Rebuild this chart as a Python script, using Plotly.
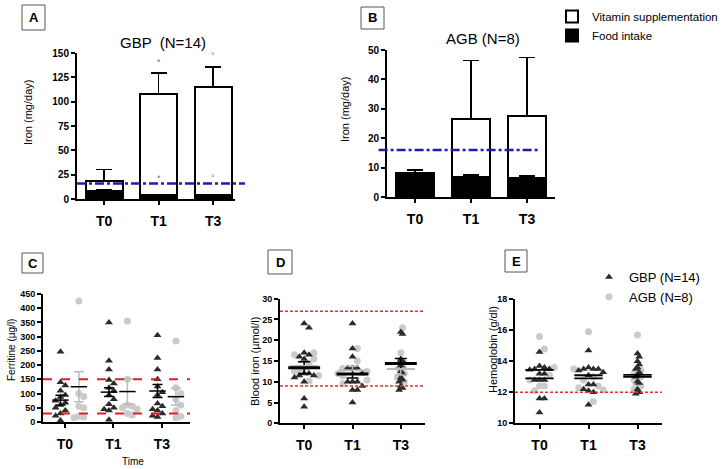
import plotly.graph_objects as go

FONT = "Liberation Sans, Arial, sans-serif"
W, H = 723, 469

times = ["T0", "T1", "T3"]

# ---- Panel A : GBP (N=14) iron intake, mg/day ----
gbp_food = [8, 4, 4]
gbp_food_err = [1.0, 0.5, 0.5]
gbp_vit = [11, 104, 111.5]
gbp_total_err = [11.5, 21.5, 20]
gbp_marks = ["", "*", "°"]

# ---- Panel B : AGB (N=8) iron intake, mg/day ----
agb_food = [8.2, 6.8, 6.5]
agb_food_err = [1.0, 0.6, 0.6]
agb_vit = [0, 19.7, 21]
agb_total_err = [0, 20, 20]

iron_rda = 16

# ---- Panel C : Ferritine (ug/l) ----
fer_gbp = [
    [247, 140, 128, 110, 95, 88, 75, 68, 60, 50, 40, 30, 22, 5],
    [350, 215, 185, 148, 135, 120, 110, 95, 80, 62, 50, 45, 40, 8],
    [305, 225, 185, 150, 125, 105, 95, 65, 55, 45, 40, 30, 22, 18],
]
fer_agb = [
    [425, 100, 90, 55, 50, 20, 18, 15],
    [355, 150, 60, 55, 50, 45, 30, 25],
    [285, 120, 100, 80, 60, 40, 20, 15],
]
fer_gbp_mean = [77, 105, 109]
fer_gbp_sem = [17, 15, 23]
fer_agb_mean = [124, 107, 89]
fer_agb_sem = [53, 45, 30]
fer_range = [30, 150]

# ---- Panel D : Blood iron (umol/l) ----
bi_gbp = [
    [24, 23, 17, 16.5, 16, 15.5, 12, 12, 11.5, 11.5, 11, 10, 6, 4],
    [24, 18, 16, 13.3, 13.3, 13.3, 12, 10, 10, 10, 9, 8, 8, 5],
    [22, 21.5, 15.5, 15, 14.5, 14, 12.5, 12, 11, 10.5, 10, 9, 8.5, 8],
]
bi_agb = [
    [17, 16.5, 15.5, 14.5, 13, 12.5, 11.5, 10.2],
    [18, 15, 13.2, 12.5, 12, 11.4, 10.4, 9.5],
    [23, 17, 14.5, 13.5, 13, 12, 11, 10],
]
bi_gbp_mean = [13.4, 11.9, 14.4]
bi_gbp_sem = [1.4, 1.0, 1.2]
bi_agb_mean = [13.8, 12.8, 13.1]
bi_agb_sem = [0.9, 1.0, 1.5]
bi_range = [9, 27]

# ---- Panel E : Hemoglobin (g/dl) ----
hb_gbp = [
    [14.6, 13.7, 13.6, 13.5, 13.5, 13.45, 13.2, 13.2, 12.8, 12.8, 12.8, 11.6, 11.6, 10.7],
    [14.7, 13.6, 13.5, 13.5, 13.5, 13.4, 13.3, 13.1, 12.5, 12.5, 12.2, 12.1, 12.0, 11.2],
    [14.5, 14.3, 14.0, 13.8, 13.6, 13.5, 13.3, 13.1, 13.0, 12.7, 12.6, 12.2, 12.0, 11.9],
]
hb_agb = [
    [15.6, 14.8, 13.6, 13.1, 12.8, 12.4, 12.4, 12.1],
    [15.9, 13.5, 13.0, 12.8, 12.4, 12.3, 12.15, 11.4],
    [15.7, 13.4, 13.2, 13.0, 12.8, 12.6, 12.4, 12.2],
]
hb_gbp_mean = [12.9, 12.9, 13.0]
hb_agb_mean = [13.45, 13.1, 13.12]
hb_threshold = 12

TRI_COLOR = "#2b2b2b"
CIR_COLOR = "#cbcbcb"


def px(x):
    return x / W


def py(y):
    return 1 - y / H


def swarm(vals, thr, step):
    placed, xs = [], []
    offs = [0]
    for i in range(1, 30):
        offs += [i, -i]
    for v in vals:
        for o in offs:
            x = o * step
            if all(abs(v - pv) >= thr or abs(x - pxx) >= step * 0.99 for pv, pxx in placed):
                break
        placed.append((v, x))
        xs.append(x)
    return xs


def hsegs(centers, vals, half):
    xs, ys = [], []
    for c, v in zip(centers, vals):
        xs += [c - half, c + half, None]
        ys += [v, v, None]
    return xs, ys


fig = go.Figure()

# ---------------- Panel A / B bars ----------------
for (food, ferr, vit, terr, xa, ya, show) in [
    (gbp_food, gbp_food_err, gbp_vit, gbp_total_err, "x", "y", True),
    (agb_food, agb_food_err, agb_vit, agb_total_err, "x2", "y2", False),
]:
    idx = list(range(len(times)))
    fig.add_trace(go.Bar(
        x=idx, y=food, width=0.68, name="Food intake", showlegend=show, legend="legend",
        marker=dict(color="black", line=dict(color="black", width=2)),
        error_y=dict(type="data", array=ferr, arrayminus=[0] * 3, symmetric=False,
                     color="black", thickness=1.5, width=8),
        xaxis=xa, yaxis=ya,
    ))
    fig.add_trace(go.Bar(
        x=idx, y=vit, width=0.68, name="Vitamin supplementation", showlegend=show, legend="legend",
        marker=dict(color="rgba(255,255,255,0)", line=dict(color="black", width=2)),
        error_y=dict(type="data", array=terr, arrayminus=[0] * 3, symmetric=False,
                     color="black", thickness=1.5, width=8),
        xaxis=xa, yaxis=ya,
    ))

# significance marks in panel A
annotations = []
for i, m in enumerate(gbp_marks):
    if not m:
        continue
    top = gbp_food[i] + gbp_vit[i] + gbp_total_err[i] + 11
    for yv in (top, gbp_food[i] + 18):
        annotations.append(dict(x=i, y=yv, xref="x", yref="y", text=m, showarrow=False,
                                font=dict(size=9, color="#777", family=FONT)))

# ---------------- Panel C ----------------
for i in range(3):
    thr = 6 * 450 / 128
    gx = swarm(fer_gbp[i], thr, 0.1)
    ax = swarm(fer_agb[i], thr, 0.1)
    fig.add_trace(go.Scatter(
        x=[i - 0.19 + v for v in gx], y=fer_gbp[i], mode="markers", xaxis="x3", yaxis="y3",
        marker=dict(symbol="triangle-up", size=7, color=TRI_COLOR), showlegend=False))
    fig.add_trace(go.Scatter(
        x=[i + 0.19 + v for v in ax], y=fer_agb[i], mode="markers", xaxis="x3", yaxis="y3",
        marker=dict(symbol="circle", size=7, color=CIR_COLOR), showlegend=False))

cg = [i - 0.19 for i in range(3)]
ca = [i + 0.19 for i in range(3)]
fig.add_trace(go.Scatter(x=ca, y=fer_agb_mean, mode="markers", xaxis="x3", yaxis="y3",
                         marker=dict(size=1, color="rgba(0,0,0,0)"), showlegend=False,
                         error_y=dict(type="data", array=fer_agb_sem, color="#bbbbbb",
                                      thickness=1.5, width=5)))
fig.add_trace(go.Scatter(x=cg, y=fer_gbp_mean, mode="markers", xaxis="x3", yaxis="y3",
                         marker=dict(size=1, color="rgba(0,0,0,0)"), showlegend=False,
                         error_y=dict(type="data", array=fer_gbp_sem, color="black",
                                      thickness=1.5, width=5)))
for centers, means in ((cg, fer_gbp_mean), (ca, fer_agb_mean)):
    xs, ys = hsegs(centers, means, 0.17)
    fig.add_trace(go.Scatter(x=xs, y=ys, mode="lines", xaxis="x3", yaxis="y3",
                             line=dict(color="black", width=1.5), showlegend=False))

# ---------------- Panel D & E ----------------
def dot_panel(gbp, agb, xa, ya, thr, step, spreads, legend_on):
    for i in range(3):
        xs = swarm(gbp[i] + agb[i], thr, step * spreads[i])
        n = len(gbp[i])
        fig.add_trace(go.Scatter(
            x=[i + v for v in xs[n:]], y=agb[i], mode="markers", xaxis=xa, yaxis=ya,
            name="AGB (N=8)", legend="legend2", legendrank=2, showlegend=legend_on and i == 0,
            marker=dict(symbol="circle", size=7, color=CIR_COLOR)))
        fig.add_trace(go.Scatter(
            x=[i + v for v in xs[:n]], y=gbp[i], mode="markers", xaxis=xa, yaxis=ya,
            name="GBP (N=14)", legend="legend2", legendrank=1, showlegend=legend_on and i == 0,
            marker=dict(symbol="triangle-up", size=7, color=TRI_COLOR)))


dot_panel(bi_gbp, bi_agb, "x4", "y4", 6 * 30 / 124.7, 0.1, [1, 1, 0.35], False)
dot_panel(hb_gbp, hb_agb, "x5", "y5", 6 * 8 / 124, 0.1, [1, 1, 0.35], True)

cen = list(range(3))
# D means
fig.add_trace(go.Scatter(x=cen, y=bi_agb_mean, mode="markers", xaxis="x4", yaxis="y4",
                         marker=dict(size=1, color="rgba(0,0,0,0)"), showlegend=False,
                         error_y=dict(type="data", array=bi_agb_sem, color="#bbbbbb",
                                      thickness=1.5, width=6)))
fig.add_trace(go.Scatter(x=cen, y=bi_gbp_mean, mode="markers", xaxis="x4", yaxis="y4",
                         marker=dict(size=1, color="rgba(0,0,0,0)"), showlegend=False,
                         error_y=dict(type="data", array=bi_gbp_sem, color="black",
                                      thickness=1.5, width=6)))
xs, ys = hsegs(cen, bi_agb_mean, 0.29)
fig.add_trace(go.Scatter(x=xs, y=ys, mode="lines", xaxis="x4", yaxis="y4",
                         line=dict(color="#bbbbbb", width=2), showlegend=False))
xs, ys = hsegs(cen, bi_gbp_mean, 0.33)
fig.add_trace(go.Scatter(x=xs, y=ys, mode="lines", xaxis="x4", yaxis="y4",
                         line=dict(color="black", width=3), showlegend=False))
# E means
for means in (hb_gbp_mean, hb_agb_mean):
    xs, ys = hsegs(cen, means, 0.29)
    fig.add_trace(go.Scatter(x=xs, y=ys, mode="lines", xaxis="x5", yaxis="y5",
                             line=dict(color="black", width=1.8), showlegend=False))

# ---------------- shapes ----------------
shapes = []
shapes.append(dict(type="line", xref="x domain", yref="y", x0=0, x1=1.063, y0=iron_rda, y1=iron_rda,
                   line=dict(color="#1c1cb0", width=2.5, dash="dashdot"), layer="above"))
shapes.append(dict(type="line", xref="x2 domain", yref="y2", x0=-0.05, x1=0.9, y0=iron_rda, y1=iron_rda,
                   line=dict(color="#1c1cb0", width=2.5, dash="dashdot"), layer="above"))
for v in fer_range:
    shapes.append(dict(type="line", xref="x3 domain", yref="y3", x0=0, x1=1, y0=v, y1=v,
                       line=dict(color="#e02020", width=2, dash="dash"), layer="above"))
for v in bi_range:
    shapes.append(dict(type="line", xref="x4 domain", yref="y4", x0=0, x1=1, y0=v, y1=v,
                       line=dict(color="#e03030", width=1.5, dash="3px,2px"), layer="above"))
shapes.append(dict(type="line", xref="x5 domain", yref="y5", x0=0, x1=1, y0=hb_threshold, y1=hb_threshold,
                   line=dict(color="#e03030", width=1.5, dash="3px,2px"), layer="above"))

# panel letter boxes
boxes = [("A", 22, 5, 45, 30), ("B", 361, 7, 384, 29), ("C", 22, 253, 43, 273),
         ("D", 268, 250, 292, 274), ("E", 505, 250, 527, 272)]
for letter, x0, y0, x1, y1 in boxes:
    shapes.append(dict(type="rect", xref="paper", yref="paper", x0=px(x0), x1=px(x1),
                       y0=py(y1), y1=py(y0), line=dict(color="#555", width=1)))
    annotations.append(dict(x=px((x0 + x1) / 2), y=py((y0 + y1) / 2), xref="paper", yref="paper",
                            text="<b>%s</b>" % letter, showarrow=False,
                            xanchor="center", yanchor="middle",
                            font=dict(size=13, color="black", family=FONT)))

# titles and axis titles
texts = [
    ("GBP  (N=14)", 163, 43, 0, 15),
    ("AGB (N=8)", 483, 38, 0, 15),
    ("Iron (mg/day)", 28, 113, -90, 11),
    ("Iron (mg/day)", 345, 110, -90, 11),
    ("Ferritine (µg/l)", 11, 350, -90, 10),
    ("Blood iron (µmol/l)", 255, 362, -90, 11),
    ("Hemoglobin (g/dl)", 493, 350, -90, 11),
    ("Time", 133, 461, 0, 10),
]
for t, x, y, ang, sz in texts:
    annotations.append(dict(x=px(x), y=py(y), xref="paper", yref="paper", text=t, showarrow=False,
                            textangle=ang, xanchor="center", yanchor="middle",
                            font=dict(size=sz, color="black", family=FONT)))


def xaxis(dom, rng, tickvals, anchor):
    return dict(domain=dom, range=rng, anchor=anchor, tickvals=tickvals, ticktext=times,
                showline=True, linecolor="black", linewidth=2, ticks="outside", ticklen=4,
                tickwidth=1.5, tickcolor="black", showgrid=False, zeroline=False,
                tickfont=dict(size=14, family=FONT, color="black", weight="bold"),
                ticklabelstandoff=4, fixedrange=True, automargin=False)


def yaxis(dom, rng, dtick, anchor, size=9):
    return dict(domain=dom, range=rng, anchor=anchor, dtick=dtick, tick0=rng[0],
                showline=True, linecolor="black", linewidth=2, ticks="outside", ticklen=4,
                tickwidth=1.5, tickcolor="black", showgrid=False, zeroline=False,
                tickfont=dict(size=size, family=FONT, color="black", weight="bold"),
                fixedrange=True, automargin=False)


fig.update_layout(
    width=W, height=H, margin=dict(l=0, r=0, t=0, b=0, autoexpand=False),
    paper_bgcolor="white", plot_bgcolor="white",
    barmode="stack", showlegend=True,
    font=dict(family=FONT, color="black"),
    xaxis=xaxis([px(77), px(235)], [-0.5, 2.4], [0, 1, 2], "y"),
    yaxis=yaxis([py(199), py(53)], [0, 150], 25, "x", 10),
    xaxis2=xaxis([px(387), px(555)], [-0.5, 2.5], [0, 1, 2], "y2"),
    yaxis2=yaxis([py(197), py(50)], [0, 50], 10, "x2", 10),
    xaxis3=xaxis([px(43), px(190)], [-0.55, 2.48], [-0.1, 0.9, 1.9], "y3"),
    yaxis3=yaxis([py(422), py(294)], [0, 450], 50, "x3"),
    xaxis4=xaxis([px(280), px(425)], [-0.5, 2.5], [0, 1, 2], "y4"),
    yaxis4=yaxis([py(423.3), py(298.7)], [0, 30], 5, "x4"),
    xaxis5=xaxis([px(515), px(662)], [-0.5, 2.5], [0, 1, 2], "y5"),
    yaxis5=yaxis([py(423.3), py(299.3)], [10, 18], 2, "x5"),
    legend=dict(x=px(552), y=py(2), xanchor="left", yanchor="top", traceorder="reversed",
                font=dict(size=11.5, family=FONT, color="black"), bgcolor="rgba(0,0,0,0)",
                tracegroupgap=0, itemwidth=30),
    legend2=dict(x=px(589), y=py(262), xanchor="left", yanchor="top", traceorder="normal",
                 font=dict(size=13, family=FONT, color="black"), bgcolor="rgba(0,0,0,0)",
                 itemwidth=30),
    shapes=shapes, annotations=annotations,
)

fig.write_html("out.html", config={"displayModeBar": False},
               post_script="document.body.style.margin='0';")
